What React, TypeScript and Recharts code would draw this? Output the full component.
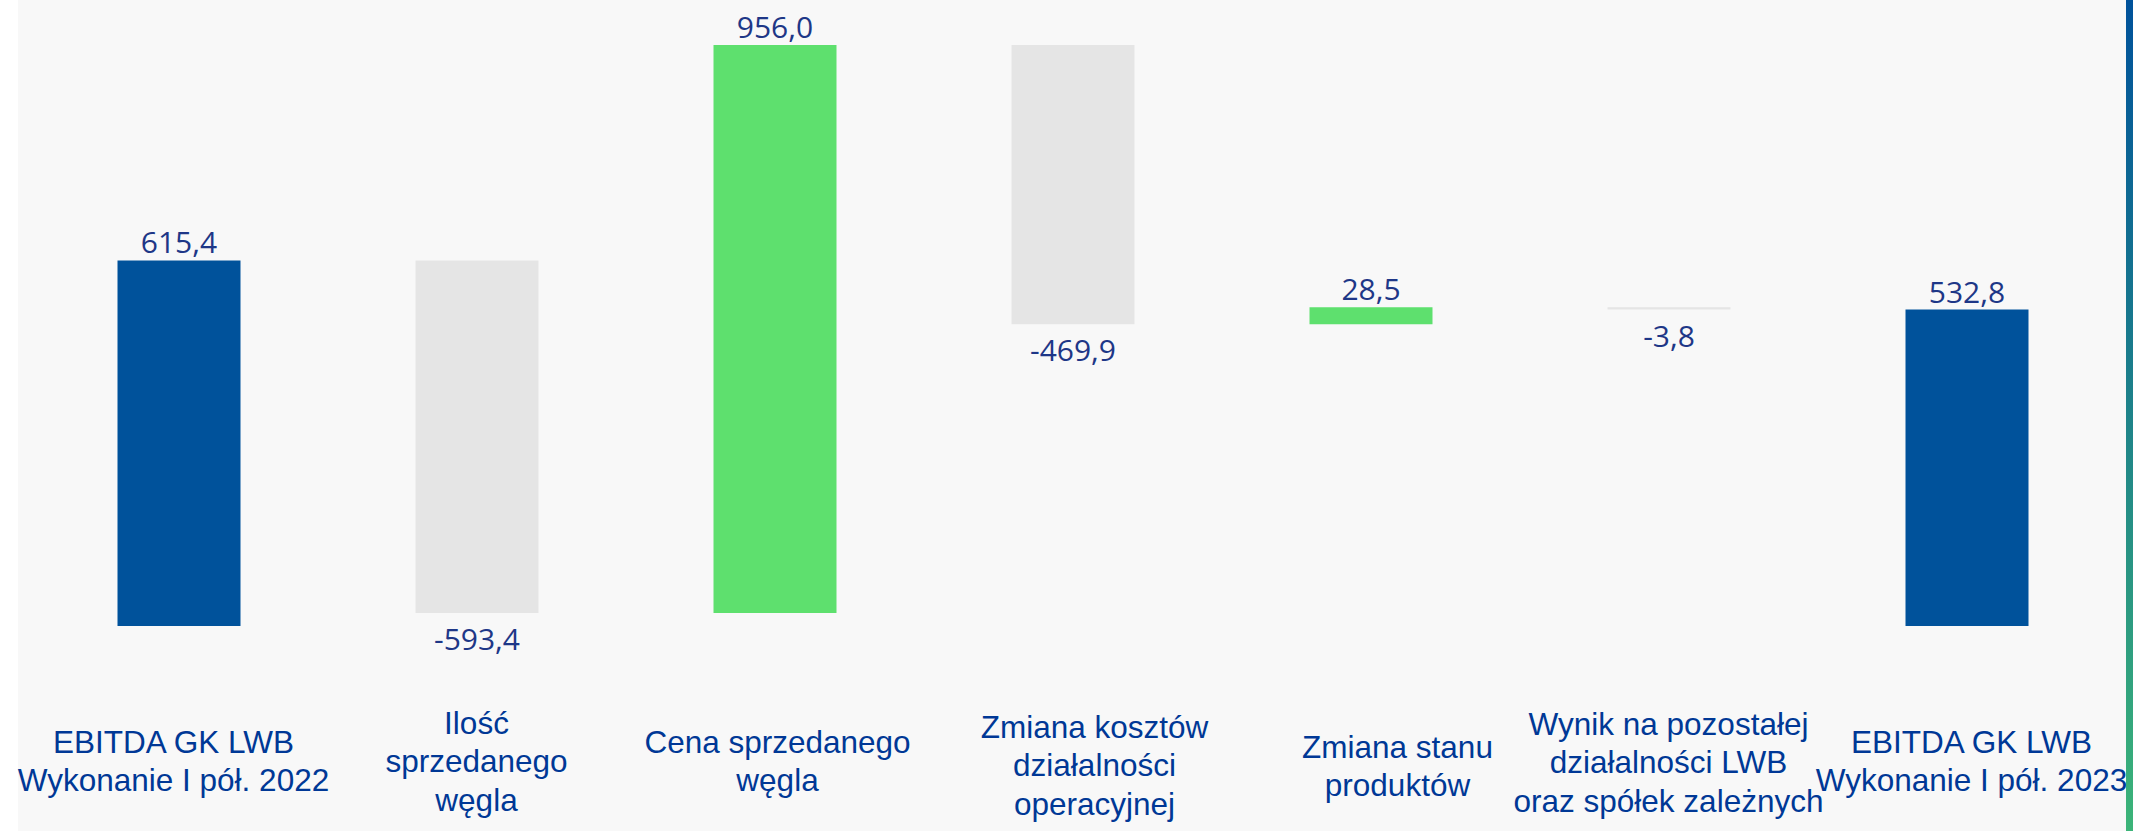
import { BarChart, Bar, XAxis, YAxis, Cell, LabelList } from 'recharts';

// ── Data ──────────────────────────────────────────────────────────────────────

const CATEGORIES: string[] = [
  'EBITDA GK LWB\nWykonanie I pół. 2022',
  'Ilość\nsprzedanego\nwęgla',
  'Cena sprzedanego\nwęgla',
  'Zmiana kosztów\ndziałalności\noperacyjnej',
  'Zmiana stanu\nproduktów',
  'Wynik na pozostałej\ndziałalności LWB\noraz spółek zależnych',
  'EBITDA GK LWB\nWykonanie I pół. 2023',
];

// totals are absolute values, the rest are changes
const VALUES: number[] = [615.4, -593.4, 956.0, -469.9, 28.5, -3.8, 532.8];
const IS_TOTAL: boolean[] = [true, false, false, false, false, false, true];

const Y_DOMAIN: [number, number] = [0, 1000];

// ── Style ─────────────────────────────────────────────────────────────────────

const BLUE = 'rgb(0,82,155)';
const GREEN = 'rgb(94,224,110)';
const GREY = 'rgb(229,229,229)';
const VALUE_TEXT = 'rgb(30,55,135)';
const CAT_TEXT = 'rgb(0,56,150)';

// the category text boxes in the original are not exactly centred on the bars
const TICK_NUDGE_X = [-5, 0, 3, 22, 27, 0, 5];
const TICK_NUDGE_Y = [0, 0, 0, 4, 5, 1, 0];

// ── Waterfall rows ────────────────────────────────────────────────────────────

let running = 0;
const rows = CATEGORIES.map((name, i) => {
  const v = VALUES[i];
  if (IS_TOTAL[i]) {
    running = v;
    return { name, base: 0, size: v, delta: v };
  }
  const start = running;
  running = start + v;
  return { name, base: Math.min(start, running), size: Math.abs(v), delta: v };
});

const fmt = (v: number) => v.toFixed(1).replace('.', ',');

function colourFor(i: number) {
  if (IS_TOTAL[i]) return BLUE;
  return VALUES[i] >= 0 ? GREEN : GREY;
}

// ── Custom pieces ─────────────────────────────────────────────────────────────

function CategoryTick({ x, y, payload, index }: any) {
  const i = payload?.index ?? index ?? 0;
  const lines = String(payload.value).split('\n');
  const lh = 38.5;
  const cx = x + (TICK_NUDGE_X[i] || 0);
  const first = y + 146 + (TICK_NUDGE_Y[i] || 0) - ((lines.length - 1) * lh) / 2;
  return (
    <text
      x={cx}
      textAnchor="middle"
      fill={CAT_TEXT}
      style={{ fontFamily: '"Liberation Sans", Arial, sans-serif', fontSize: 31.5 }}
    >
      {lines.map((l, k) => (
        <tspan key={k} x={cx} y={first + k * lh}>
          {l}
        </tspan>
      ))}
    </text>
  );
}

function ValueLabel({ x, y, width, height, index }: any) {
  const v = VALUES[index];
  const cx = Number(x) + Number(width) / 2;
  const negative = !IS_TOTAL[index] && v < 0;
  const ty = negative ? Number(y) + Number(height) + 37 : Number(y) - 7;
  return (
    <text
      x={cx}
      y={ty}
      textAnchor="middle"
      fill={VALUE_TEXT}
      style={{ fontFamily: '"Open Sans", "Noto Sans", sans-serif', fontSize: 30 }}
    >
      {fmt(v)}
    </text>
  );
}

// ── App ───────────────────────────────────────────────────────────────────────

export default function App() {
  return (
    <div
      style={{
        position: 'absolute',
        left: 0,
        top: 0,
        width: 2133,
        height: 831,
        background: '#fff',
        overflow: 'hidden',
      }}
    >
      <div
        style={{
          position: 'absolute',
          left: 18,
          top: 0,
          width: 2108,
          height: 831,
          background: 'rgb(248,248,248)',
        }}
      />
      <div style={{ position: 'absolute', left: 0, top: 0 }}>
        <BarChart
          width={2133}
          height={831}
          data={rows}
          margin={{ top: 32, right: 17.5, left: 29.5, bottom: 0 }}
          barSize={123}
        >
          <XAxis
            dataKey="name"
            axisLine={false}
            tickLine={false}
            tickSize={0}
            tickMargin={0}
            height={205}
            interval={0}
            tick={<CategoryTick />}
          />
          <YAxis hide domain={Y_DOMAIN} allowDataOverflow />
          <Bar dataKey="base" stackId="w" fill="transparent" isAnimationActive={false} />
          <Bar dataKey="size" stackId="w" isAnimationActive={false}>
            {rows.map((_, i) => (
              <Cell key={i} fill={colourFor(i)} />
            ))}
            <LabelList dataKey="size" content={<ValueLabel />} />
          </Bar>
        </BarChart>
      </div>
      <div
        style={{
          position: 'absolute',
          left: 2126,
          top: 0,
          width: 7,
          height: 831,
          background: 'linear-gradient(to bottom, rgb(0,82,155), rgb(60,180,120))',
        }}
      />
    </div>
  );
}
